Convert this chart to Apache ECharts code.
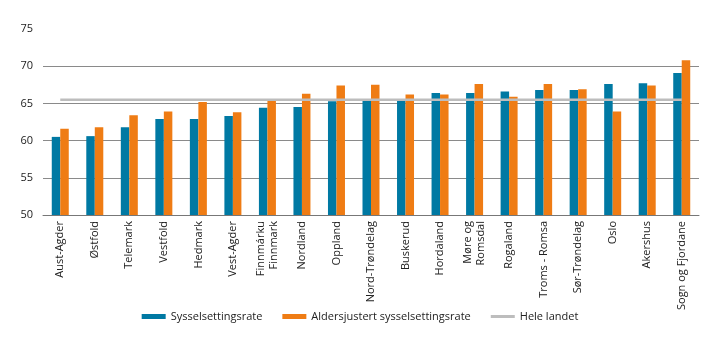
<!DOCTYPE html>
<html><head><meta charset="utf-8">
<script src="https://cdn.jsdelivr.net/npm/echarts@6/dist/echarts.min.js"></script>
<style>html,body{margin:0;padding:0;background:#fff}#c{width:720px;height:341px}</style>
</head><body><div id="c"></div>
<script>
const categories = ["Aust-Agder","Østfold","Telemark","Vestfold","Hedmark","Vest-Agder","Finnmárku\nFinnmark","Nordland","Oppland","Nord-Trøndelag","Buskerud","Hordaland","Møre og\nRomsdal","Rogaland","Troms - Romsa","Sør-Trøndelag","Oslo","Akershus","Sogn og Fjordane"];
const sysselsettingsrate = [60.5,60.6,61.8,62.9,62.9,63.3,64.4,64.5,65.3,65.4,65.4,66.4,66.4,66.6,66.8,66.8,67.6,67.7,69.1];
const aldersjustert = [61.6,61.8,63.4,63.9,65.2,63.8,65.4,66.3,67.4,67.5,66.2,66.2,67.6,65.9,67.6,66.9,63.9,67.4,70.8];
const heleLandet = [65.5,65.5,65.5,65.5,65.5,65.5,65.5,65.5,65.5,65.5,65.5,65.5,65.5,65.5,65.5,65.5,65.5,65.5,65.5];
const seriesNames = ["Sysselsettingsrate","Aldersjustert sysselsettingsrate","Hele landet"];

const font = "'Open Sans', sans-serif";
const chart = echarts.init(document.getElementById('c'), null, {renderer:'canvas'});
chart.setOption({
  animation:false,
  textStyle:{fontFamily:font},
  grid:{left:43,right:21,top:29,bottom:126},
  legend:{
    bottom:14, left:'center', itemGap:20, itemWidth:24, itemHeight:5,
    textStyle:{fontSize:11,color:'#222',fontFamily:font},
    data:[
      {name:seriesNames[0],icon:'rect'},
      {name:seriesNames[1],icon:'rect'},
      {name:seriesNames[2],icon:'path://M0,0H24V3H0Z',itemStyle:{color:'#bdbdbd',borderWidth:0}}
    ]
  },
  xAxis:{
    type:'category', data:categories,
    axisLine:{lineStyle:{color:'#777',width:1}},
    axisTick:{show:false},
    axisLabel:{rotate:90,interval:0,fontSize:11,color:'#222',fontFamily:font,margin:6,lineHeight:13}
  },
  yAxis:{
    type:'value', min:50, max:75, interval:5,
    axisLine:{show:false}, axisTick:{show:false},
    axisLabel:{fontSize:11,color:'#222',fontFamily:font,margin:10},
    splitLine:{showMaxLine:false,lineStyle:{color:'#8a8a8a',width:1}}
  },
  series:[
    {name:seriesNames[0],type:'bar',data:sysselsettingsrate,barWidth:8.5,barGap:'0%',itemStyle:{color:'#0079a3'}},
    {name:seriesNames[1],type:'bar',data:aldersjustert,barWidth:8.5,barGap:'0%',itemStyle:{color:'#ef7c14'}},
    {name:seriesNames[2],type:'line',data:heleLandet,symbol:'none',lineStyle:{color:'#bdbdbd',width:2.5},itemStyle:{color:'#bdbdbd'},z:5}
  ]
});
</script></body></html>
